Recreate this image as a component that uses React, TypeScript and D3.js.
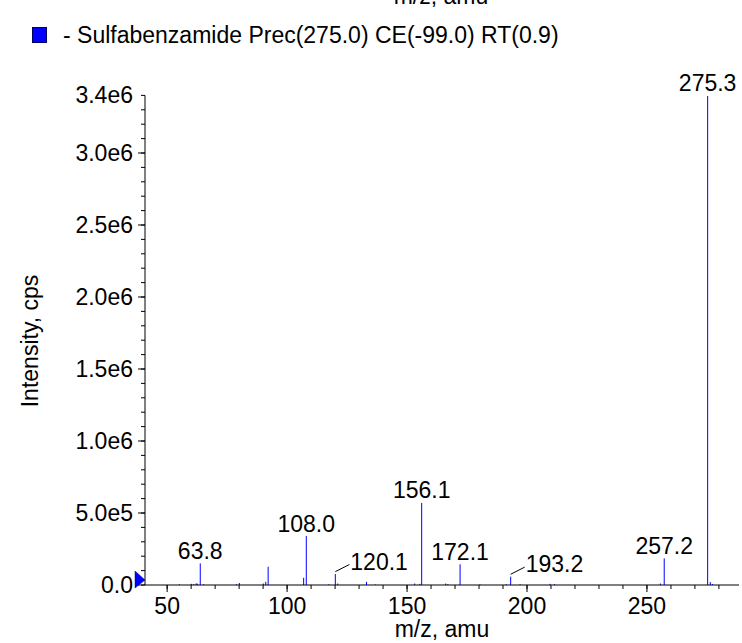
import React from "react";
import * as d3 from "d3";

const peakMz = [55.1, 60.1, 61.1, 62.1, 62.6, 63.8, 65.2, 78.9, 80.1, 90.1, 91.1, 92.1, 106.9, 108.0, 117.4, 120.1, 121.1, 133.1, 136.8, 153.2, 155.3, 156.1, 166.1, 167.0, 172.1, 180.4, 191.3, 193.2, 197.1, 209.6, 211.5, 255.6, 257.2, 275.3, 276.4, 277.3];
const peakIntensity = [5e3, 8e3, 6e3, 1.1e4, 9e3, 1.5e5, 5e3, 5e3, 1.4e4, 1e4, 2.2e4, 1.27e5, 5e4, 3.4e5, 5e3, 7.6e4, 1e4, 2.2e4, 4e3, 1e4, 8e3, 5.7e5, 1e4, 6e3, 1.44e5, 4e3, 6e3, 5.8e4, 5e3, 8e3, 6e3, 1e4, 1.85e5, 3.396e6, 2e4, 6e3];

const labelMz = [63.8, 108.0, 120.1, 156.1, 172.1, 193.2, 257.2, 275.3];
const labelIntensity = [1.5e5, 3.4e5, 7.6e4, 5.7e5, 1.44e5, 5.8e4, 1.85e5, 3.396e6];
const labelText = ["63.8", "108.0", "120.1", "156.1", "172.1", "193.2", "257.2", "275.3"];
const labelLeader = [false, false, true, false, false, true, false, false];

const xMajorTicks = [50, 100, 150, 200, 250];
const yMajorTicks = [0, 5e5, 1e6, 1.5e6, 2e6, 2.5e6, 3e6];
const yTickLabels = ["0.0", "5.0e5", "1.0e6", "1.5e6", "2.0e6", "2.5e6", "3.0e6"];
const yMaxLabel = "3.4e6";

const legendText = "- Sulfabenzamide Prec(275.0) CE(-99.0) RT(0.9)";
const xTitle = "m/z, amu";
const yTitle = "Intensity, cps";

const W = 742;
const H = 643;
const FONT = "'Liberation Sans', Arial, Helvetica, sans-serif";
const FS = 23;

export default function App() {
  const left = 145, right = 739, top = 95.4, bottom = 585;
  const xDomain = [(left - 47.2) / 2.399, (right - 47.2) / 2.399];
  const x = d3.scaleLinear().domain(xDomain).range([left, right]);
  const y = d3.scaleLinear().domain([0, 3.4e6]).range([bottom, top]);

  const xMinor = d3.range(50, 290, 10).filter((v) => v >= xDomain[0] && v <= xDomain[1]);
  const yMinor = d3.range(0, 3.4e6 + 1, 1e5);

  return (
    <svg width={W} height={H} style={{ position: "absolute", left: 0, top: 0, background: "#fff" }} fontFamily={FONT}>
      <rect x={0} y={0} width={W} height={H} fill="#fff" />
      {/* cut-off title of previous panel */}
      <text x={441} y={4} fontSize={FS} textAnchor="middle" fill="#000">{xTitle}</text>
      {/* legend */}
      <rect x={32.5} y={27.5} width={14} height={15} fill="#0000ff" stroke="#000060" strokeWidth={1} />
      <text x={63} y={43} fontSize={FS} fill="#000">{legendText}</text>

      {/* peaks */}
      {peakMz.map((m, i) => (
        <line key={"p" + i} x1={x(m)} x2={x(m)} y1={y(0)} y2={y(peakIntensity[i])} stroke="#0000ff" strokeWidth={1} />
      ))}

      {/* axes */}
      <line x1={left} x2={left} y1={top} y2={bottom} stroke="#000" strokeWidth={1} />
      <line x1={left} x2={right} y1={bottom} y2={bottom} stroke="#000" strokeWidth={1} />
      {yMinor.map((v, i) => (
        <line key={"ym" + i} x1={left - 4} x2={left} y1={y(v)} y2={y(v)} stroke="#000" strokeWidth={1} />
      ))}
      {yMajorTicks.map((v, i) => (
        <g key={"yM" + i}>
          <line x1={left - 7} x2={left} y1={y(v)} y2={y(v)} stroke="#000" strokeWidth={1} />
          <text x={133} y={y(v) + 8} fontSize={FS} textAnchor="end" fill="#000">{yTickLabels[i]}</text>
        </g>
      ))}
      <text x={133} y={y(3.4e6) + 8} fontSize={FS} textAnchor="end" fill="#000">{yMaxLabel}</text>
      {xMinor.map((v, i) => (
        <line key={"xm" + i} x1={x(v)} x2={x(v)} y1={bottom} y2={bottom + 4} stroke="#000" strokeWidth={1} />
      ))}
      {xMajorTicks.map((v, i) => (
        <g key={"xM" + i}>
          <line x1={x(v)} x2={x(v)} y1={bottom} y2={bottom + 7} stroke="#000" strokeWidth={1} />
          <text x={x(v)} y={614} fontSize={FS} textAnchor="middle" fill="#000">{String(v)}</text>
        </g>
      ))}

      {/* zero marker */}
      <path d={`M135,${bottom - 14}L135,${bottom + 3}L145,${bottom - 5}Z`} fill="#0000ff" stroke="#000080" strokeWidth={0.5} />

      {/* peak labels */}
      {labelMz.map((m, i) => {
        const px = x(m);
        const py = y(labelIntensity[i]);
        if (labelLeader[i]) {
          return (
            <g key={"l" + i}>
              <line x1={px} y1={py - 2.4} x2={px + 14} y2={py - 9.5} stroke="#000" strokeWidth={1} />
              <text x={px + 15} y={py - 4.3} fontSize={FS} fill="#000">{labelText[i]}</text>
            </g>
          );
        }
        return (
          <text key={"l" + i} x={px} y={py - 4.5} fontSize={FS} textAnchor="middle" fill="#000">{labelText[i]}</text>
        );
      })}

      {/* titles */}
      <text x={442} y={637} fontSize={FS} textAnchor="middle" fill="#000">{xTitle}</text>
      <text transform={`translate(38,341) rotate(-90)`} fontSize={FS} textAnchor="middle" fill="#000">{yTitle}</text>
    </svg>
  );
}
